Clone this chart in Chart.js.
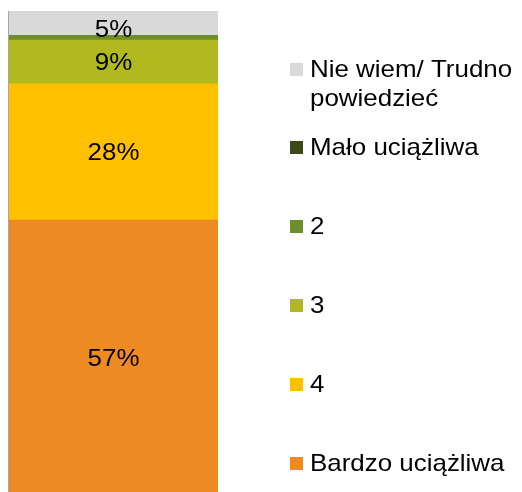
<!DOCTYPE html>
<html>
<head>
<meta charset="utf-8">
<script src="https://cdn.jsdelivr.net/npm/chart.js@4/dist/chart.umd.min.js"></script>
<style>
  body { margin: 0; background: #fff; overflow: hidden; }
  #wrap { width: 522px; height: 492px; overflow: hidden; }
</style>
</head>
<body>
<div id="wrap"><canvas id="myChart" width="522" height="497"></canvas></div>
<script>
// data, bottom to top
let categories = [''];
let seriesNames = ['Bardzo uciążliwa', '4', '3', '2', 'Mało uciążliwa', 'Nie wiem/ Trudno\npowiedzieć'];
let seriesValues = [57, 28, 9, 1, 0, 5];
let seriesColors = ['#EE8A22', '#FFC000', '#B0BA1F', '#6E8E2A', '#3D4A17', '#D9D9D9'];

let FONT = '"Liberation Sans", Arial, sans-serif';
let STRETCH = 1.08;

function stretchedText(ctx, text, x, y, align) {
    ctx.save();
    ctx.translate(x, y);
    ctx.scale(STRETCH, 1);
    ctx.textAlign = align;
    ctx.fillText(text, 0, 0);
    ctx.restore();
}

// percent labels inside the segments
let barLabels = {
    id: 'barLabels',
    afterDatasetsDraw(chart) {
        let ctx = chart.ctx;
        let area = chart.chartArea;
        ctx.save();
        ctx.font = '24px ' + FONT;
        ctx.fillStyle = '#000';
        ctx.textBaseline = 'middle';
        chart.data.datasets.forEach((ds, i) => {
            let meta = chart.getDatasetMeta(i);
            meta.data.forEach((el, j) => {
                let v = ds.data[j];
                if (v < 5) return;
                let y = Math.max((el.y + el.base) / 2, area.top + 18);
                stretchedText(ctx, v + '%', el.x, y + 1, 'center');
            });
        });
        // left axis line
        ctx.strokeStyle = '#A6A6A6';
        ctx.lineWidth = 1;
        ctx.beginPath();
        ctx.moveTo(area.left - 0.5, area.top);
        ctx.lineTo(area.left - 0.5, area.bottom);
        ctx.stroke();
        ctx.restore();
    }
};

// legend on the right, last series on top
let sideLegend = {
    id: 'sideLegend',
    afterDraw(chart) {
        let ctx = chart.ctx;
        ctx.save();
        ctx.font = '24px ' + FONT;
        ctx.textBaseline = 'middle';
        let boxX = 290, textX = 310, box = 13;
        let y = 69;
        let items = chart.data.datasets.slice().reverse();
        items.forEach((ds, k) => {
            let lines = ds.label.split('\n');
            ctx.fillStyle = ds.backgroundColor;
            ctx.fillRect(boxX, Math.round(y - box / 2), box, box);
            ctx.fillStyle = '#000';
            lines.forEach((line, n) => {
                stretchedText(ctx, line, textX, y + 1 + n * 29, 'left');
            });
            y += k === 0 ? 78 : 79;
        });
        ctx.restore();
    }
};

let ctx = document.getElementById('myChart').getContext('2d');

let myChart = new Chart(ctx, {
    type: 'bar',
    data: {
        labels: categories,
        datasets: seriesNames.map((name, i) => ({
            label: name,
            data: [seriesValues[i]],
            backgroundColor: seriesColors[i],
            borderWidth: 0,
            barPercentage: 1,
            categoryPercentage: 1
        }))
    },
    options: {
        responsive: false,
        animation: false,
        layout: {
            padding: { left: 9, top: 11, right: 304, bottom: 0 }
        },
        scales: {
            x: { stacked: true, display: false },
            y: { stacked: true, display: false, min: 0, max: 100 }
        },
        plugins: {
            legend: { display: false },
            tooltip: { enabled: false }
        }
    },
    plugins: [barLabels, sideLegend]
});
</script>
</body>
</html>
